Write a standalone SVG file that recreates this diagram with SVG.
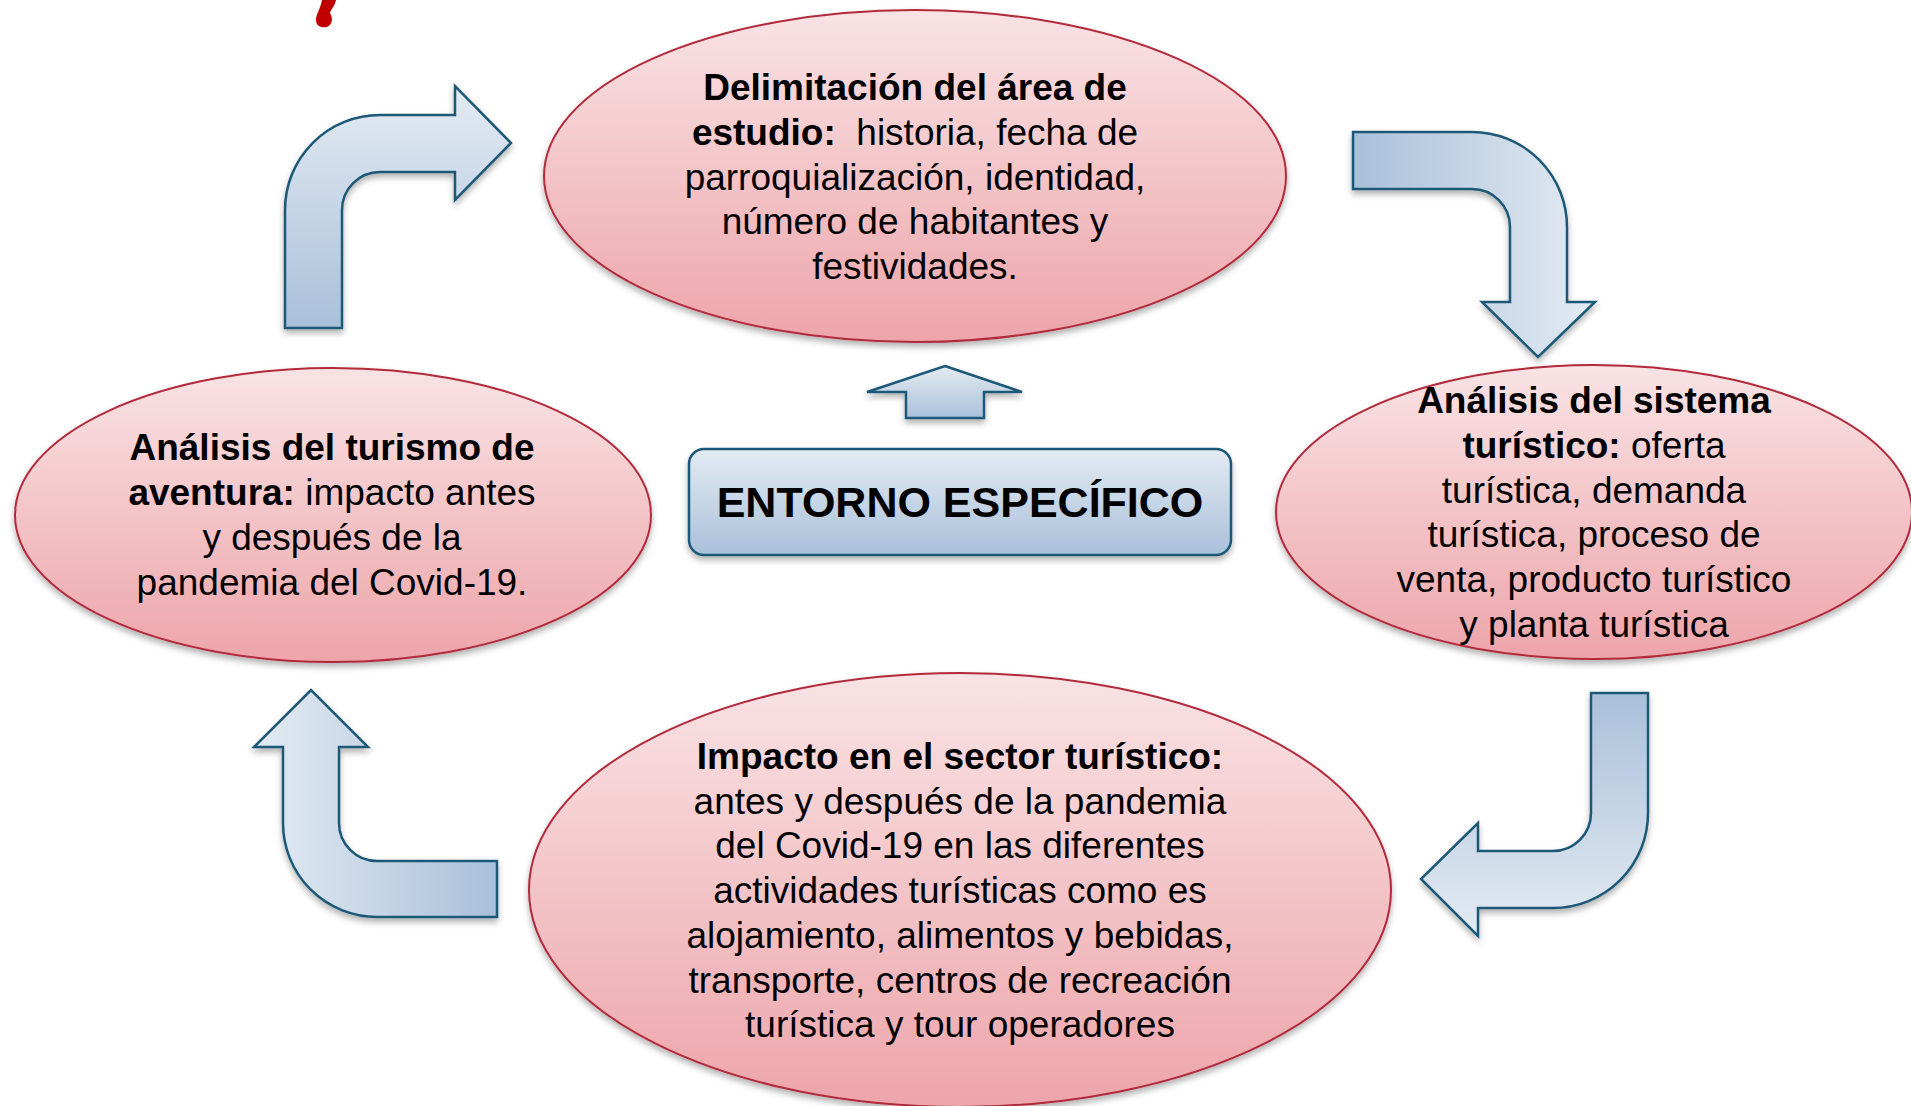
<svg xmlns="http://www.w3.org/2000/svg" width="1911" height="1106" viewBox="0 0 1911 1106">
<defs>
<linearGradient id="pink" x1="0" y1="0" x2="0" y2="1">
<stop offset="0" stop-color="#f9e3e5"/>
<stop offset="1" stop-color="#eda5aa"/>
</linearGradient>
<linearGradient id="blueV" x1="0" y1="0" x2="0" y2="1">
<stop offset="0" stop-color="#e4ebf3"/>
<stop offset="1" stop-color="#a9c0da"/>
</linearGradient>
<linearGradient id="blueVr" x1="0" y1="0" x2="0" y2="1">
<stop offset="0" stop-color="#a9c0da"/>
<stop offset="1" stop-color="#e4ebf3"/>
</linearGradient>
<linearGradient id="blueH" x1="0" y1="0" x2="1" y2="0">
<stop offset="0" stop-color="#e4ebf3"/>
<stop offset="1" stop-color="#a9c0da"/>
</linearGradient>
<linearGradient id="blueHr" x1="0" y1="0" x2="1" y2="0">
<stop offset="0" stop-color="#a9c0da"/>
<stop offset="1" stop-color="#e4ebf3"/>
</linearGradient>
<filter id="sh" x="-10%" y="-10%" width="120%" height="130%">
<feDropShadow dx="0" dy="4" stdDeviation="3" flood-color="#000" flood-opacity="0.3"/>
</filter>
</defs>
<style>
.ell{fill:url(#pink);stroke:#b22a3b;stroke-width:2;filter:url(#sh)}
.arr{stroke:#1d5878;stroke-width:2.5;stroke-linejoin:miter;filter:url(#sh)}
.t{font-family:"Liberation Sans",Arial,sans-serif;font-size:37px;fill:#000;text-anchor:middle}
.b{font-weight:bold}
</style>
<path d="M322,0 L336,0 C335,6 331,9 330,13 C333,18 333,24 327,27 C321,28 316,26 316,20 C316,14 320,10 322,0 Z" fill="#c00000"/>
<g id="connectors">
<path class="arr" fill="url(#blueV)" d="M285,328 L285,210 A95,95 0 0 1 380,115 L455,115 L455,86 L511,143 L455,200 L455,172 L380,172 A38,38 0 0 0 342,210 L342,328 Z"/>
<path class="arr" fill="url(#blueHr)" d="M1353,132 L1472,132 A95,95 0 0 1 1567,227 L1567,302 L1595,302 L1538,357 L1482,302 L1510,302 L1510,227 A38,38 0 0 0 1472,189 L1353,189 Z"/>
<path class="arr" fill="url(#blueVr)" d="M1591,693 L1648,693 L1648,813 A95,95 0 0 1 1553,908 L1478,908 L1478,936 L1421,879 L1478,823 L1478,851 L1553,851 A38,38 0 0 0 1591,813 Z"/>
<path class="arr" fill="url(#blueH)" d="M497,861 L497,917 L377,917 A94,94 0 0 1 283,823 L283,747 L254,747 L311,690 L368,747 L339,747 L339,823 A38,38 0 0 0 377,861 Z"/>
<path class="arr" fill="url(#blueV)" d="M945,366 L1022,392 L984,392 L984,418 L906,418 L906,392 L867,392 Z"/>
</g>
<g id="node-top">
<ellipse class="ell" cx="915" cy="176" rx="371" ry="166"/>
<text class="t" x="915" y="100"><tspan class="b">Delimitación del área de</tspan></text>
<text class="t" x="915" y="145" xml:space="preserve"><tspan class="b">estudio:</tspan>  historia, fecha de</text>
<text class="t" x="915" y="190">parroquialización, identidad,</text>
<text class="t" x="915" y="234">número de habitantes y</text>
<text class="t" x="915" y="279">festividades.</text>
</g>
<g id="node-right">
<ellipse class="ell" cx="1594" cy="512" rx="318" ry="147"/>
<text class="t" x="1594" y="413"><tspan class="b">Análisis del sistema</tspan></text>
<text class="t" x="1594" y="458"><tspan class="b">turístico:</tspan> oferta</text>
<text class="t" x="1594" y="503">turística, demanda</text>
<text class="t" x="1594" y="547">turística, proceso de</text>
<text class="t" x="1594" y="592">venta, producto turístico</text>
<text class="t" x="1594" y="637">y planta turística</text>
</g>
<g id="node-bottom">
<ellipse class="ell" cx="960" cy="890" rx="431" ry="217"/>
<text class="t" x="960" y="769"><tspan class="b">Impacto en el sector turístico:</tspan></text>
<text class="t" x="960" y="814">antes y después de la pandemia</text>
<text class="t" x="960" y="858">del Covid-19 en las diferentes</text>
<text class="t" x="960" y="903">actividades turísticas como es</text>
<text class="t" x="960" y="948">alojamiento, alimentos y bebidas,</text>
<text class="t" x="960" y="993">transporte, centros de recreación</text>
<text class="t" x="960" y="1037">turística y tour operadores</text>
</g>
<g id="node-left">
<ellipse class="ell" cx="333" cy="515" rx="318" ry="147"/>
<text class="t" x="332" y="460"><tspan class="b">Análisis del turismo de</tspan></text>
<text class="t" x="332" y="505"><tspan class="b">aventura:</tspan> impacto antes</text>
<text class="t" x="332" y="550">y después de la</text>
<text class="t" x="332" y="595">pandemia del Covid-19.</text>
</g>
<g id="node-center">
<rect x="689" y="449" width="542" height="106" rx="15" fill="url(#blueV)" stroke="#1d5878" stroke-width="2.5" filter="url(#sh)"/>
<text class="t b" x="960" y="517" style="font-size:43px">ENTORNO ESPECÍFICO</text>
</g>
</svg>
